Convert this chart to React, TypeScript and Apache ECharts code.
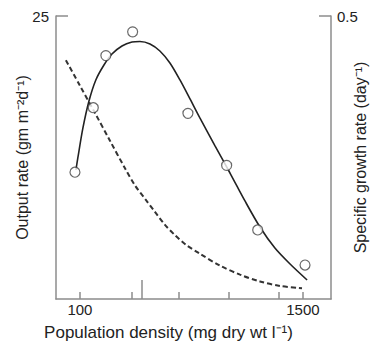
import React, { useEffect, useRef } from "react";
import * as echarts from "echarts";

// x: population density (mg dry wt l^-1)
const xMin = -50;
const xMax = 1676;
const xTickValues = [100, 426, 721, 1035, 1349, 1500];
const xLongTickValues = [489];
const xLabelValues = [100, 1500];

// Observed output rate (gm m^-2 d^-1)
const obsDensity = [69, 184, 263, 431, 778, 1021, 1216, 1513];
const obsOutput = [11.2, 16.9, 21.5, 23.6, 16.4, 11.8, 6.1, 3.0];

// Fitted output-rate curve
const fitDensity = [75, 87, 119, 157, 200, 251, 301, 364, 427, 477, 540, 602, 665, 728, 791, 853, 948, 1042, 1136, 1230, 1324, 1419, 1526];
const fitOutput = [11.4, 12.46, 15.11, 17.49, 19.35, 20.67, 21.64, 22.35, 22.7, 22.75, 22.53, 21.91, 20.85, 19.35, 17.67, 15.99, 13.52, 11.13, 8.66, 6.36, 4.5, 3.09, 1.68];

// Specific growth rate (day^-1), dashed
const growthDensity = [12, 100, 194, 288, 383, 445, 514, 571, 634, 696, 765, 853, 979, 1105, 1230, 1356, 1494];
const growthRate = [0.422, 0.377, 0.329, 0.28, 0.231, 0.201, 0.175, 0.154, 0.131, 0.113, 0.096, 0.08, 0.059, 0.043, 0.031, 0.023, 0.019];

const FONT = "Liberation Sans, Arial, sans-serif";
const AXIS_COLOR = "#8c8c8c";
const TEXT_COLOR = "#222";

export default function App() {
  const ref = useRef<HTMLDivElement>(null);
  useEffect(() => {
    if (!ref.current) return;
    const chart = echarts.init(ref.current, undefined, { renderer: "svg" });
    const pairs = (xs: number[], ys: number[]) => xs.map((x, i) => [x, ys[i]]);
    const fmt = (v: number) => String(v);
    chart.setOption({
      animation: false,
      backgroundColor: "#fff",
      textStyle: { fontFamily: FONT },
      grid: { left: 56, right: 40, top: 16, bottom: 50, outerBoundsMode: "none", containLabel: false },
      xAxis: [
        {
          type: "value",
          min: xMin,
          max: xMax,
          position: "bottom",
          splitLine: { show: false },
          axisLine: { show: true, onZero: false, lineStyle: { color: AXIS_COLOR, width: 1.5 } },
          axisTick: {
            show: true,
            inside: true,
            length: 7,
            customValues: xTickValues,
            lineStyle: { color: AXIS_COLOR, width: 1.5 },
          },
          axisLabel: {
            customValues: xLabelValues,
            formatter: fmt,
            color: TEXT_COLOR,
            fontSize: 15,
            margin: 3,
            fontFamily: FONT,
          },
          name: "Population density (mg dry wt l\u207B\u00B9)",
          nameLocation: "middle",
          nameGap: 25,
          nameMoveOverlap: false,
          nameTextStyle: { color: TEXT_COLOR, fontSize: 17, fontFamily: FONT, padding: [0, 50, 0, 0] },
        },
        {
          type: "value",
          min: xMin,
          max: xMax,
          position: "bottom",
          offset: 0,
          splitLine: { show: false },
          axisLine: { show: false, onZero: false },
          axisLabel: { show: false },
          axisTick: {
            show: true,
            inside: true,
            length: 19,
            customValues: xLongTickValues,
            lineStyle: { color: AXIS_COLOR, width: 1.5 },
          },
        },
      ],
      yAxis: [
        {
          type: "value",
          min: 0,
          max: 25,
          position: "left",
          splitLine: { show: false },
          axisLine: { show: true, onZero: false, lineStyle: { color: AXIS_COLOR, width: 1.5 } },
          axisTick: {
            show: true,
            inside: true,
            length: 12,
            customValues: [25],
            lineStyle: { color: AXIS_COLOR, width: 1.5 },
          },
          axisLabel: { customValues: [25], formatter: fmt, color: TEXT_COLOR, fontSize: 15, margin: 7, fontFamily: FONT },
          name: "Output rate (gm m\u207B\u00B2d\u207B\u00B9)",
          nameLocation: "middle",
          nameRotate: 90,
          nameGap: 26,
          nameMoveOverlap: false,
          nameTextStyle: { color: TEXT_COLOR, fontSize: 16, fontFamily: FONT },
        },
        {
          type: "value",
          min: 0,
          max: 0.5,
          position: "right",
          splitLine: { show: false },
          axisLine: { show: true, onZero: false, lineStyle: { color: AXIS_COLOR, width: 1.5 } },
          axisTick: {
            show: true,
            inside: true,
            length: 12,
            customValues: [0.5],
            lineStyle: { color: AXIS_COLOR, width: 1.5 },
          },
          axisLabel: { customValues: [0.5], formatter: fmt, color: TEXT_COLOR, fontSize: 15, margin: 6, fontFamily: FONT },
          name: "Specific growth rate (day\u207B\u00B9)",
          nameLocation: "middle",
          nameRotate: 90,
          nameGap: 21,
          nameMoveOverlap: false,
          nameTextStyle: { color: TEXT_COLOR, fontSize: 16, fontFamily: FONT },
        },
      ],
      series: [
        {
          type: "line",
          name: "growth",
          yAxisIndex: 1,
          data: pairs(growthDensity, growthRate),
          smooth: 0.3,
          showSymbol: false,
          lineStyle: { color: "#333", width: 2, type: [5, 3] },
          z: 2,
        },
        {
          type: "line",
          name: "fit",
          yAxisIndex: 0,
          data: pairs(fitDensity, fitOutput),
          smooth: 0.3,
          showSymbol: false,
          lineStyle: { color: "#222", width: 1.6 },
          z: 3,
        },
        {
          type: "scatter",
          name: "observed",
          yAxisIndex: 0,
          data: pairs(obsDensity, obsOutput),
          symbol: "circle",
          symbolSize: 10,
          itemStyle: { color: "#fff", borderColor: "#444", borderWidth: 1.2 },
          z: 4,
        },
      ],
    });
    return () => chart.dispose();
  }, []);
  return (
    <div
      ref={ref}
      style={{ position: "fixed", left: 0, top: 0, width: 371, height: 349, background: "#fff" }}
    />
  );
}
